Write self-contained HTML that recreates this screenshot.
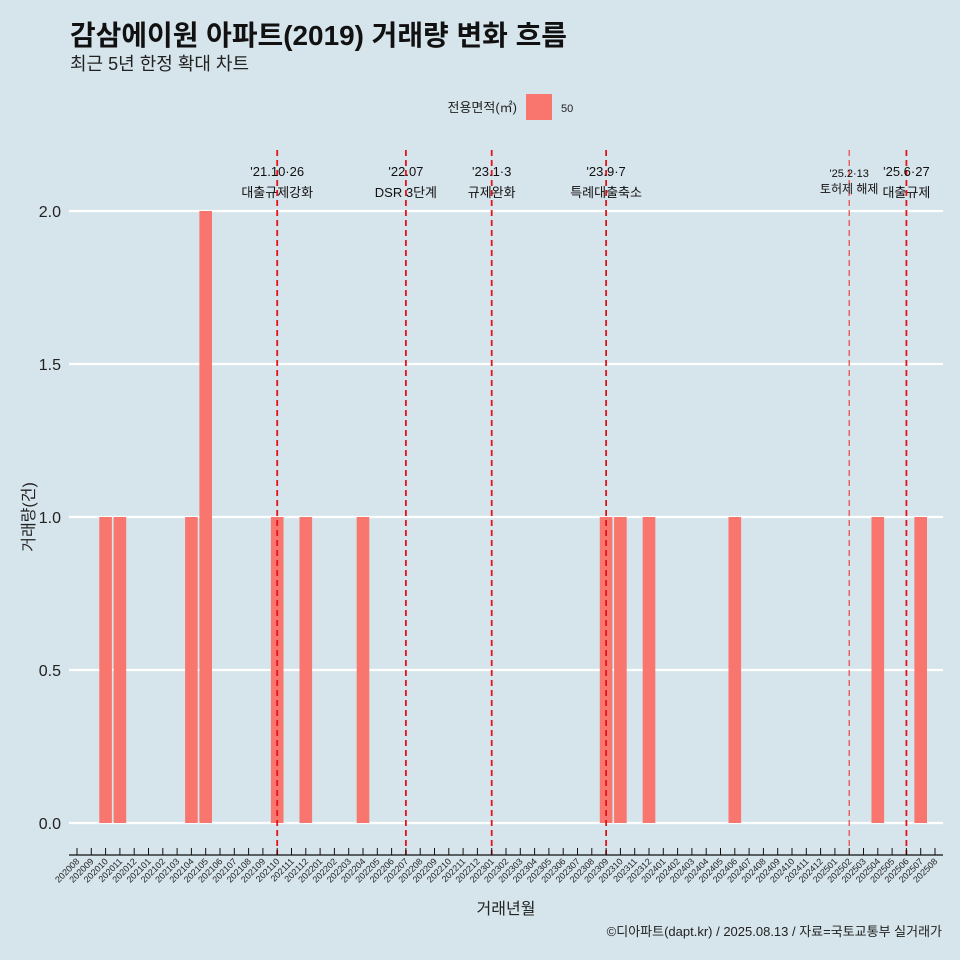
<!DOCTYPE html>
<html><head><meta charset="utf-8">
<style>
body{margin:0;background:#d6e4eb;}
svg{display:block;font-family:"Liberation Sans","Noto Sans CJK KR",sans-serif;}
</style></head>
<body>
<svg id="chart" width="960" height="960" viewBox="0 0 960 960">
<rect width="960" height="960" fill="#d6e4eb"/>
<text x="70" y="45" font-size="28" font-weight="bold" fill="#111" textLength="497" lengthAdjust="spacingAndGlyphs">감삼에이원 아파트(2019) 거래량 변화 흐름</text>
<text x="70" y="70" font-size="18" fill="#222">최근 5년 한정 확대 차트</text>
<g>
<text x="517" y="112" font-size="13" text-anchor="end" fill="#222">전용면적(㎡)</text>
<rect x="526" y="94" width="26" height="26" fill="#f8766d"/>
<text x="561" y="112" font-size="11" fill="#222">50</text>
</g>
<g id="grid"></g><g id="bars"></g><g id="vlines"></g><g id="axes"></g>
<text transform="translate(34,517) rotate(-90)" font-size="16" text-anchor="middle" fill="#222">거래량(건)</text>
<text x="506" y="914" font-size="16" text-anchor="middle" fill="#222">거래년월</text>
<text x="942" y="936" font-size="13" text-anchor="end" fill="#222">©디아파트(dapt.kr) / 2025.08.13 / 자료=국토교통부 실거래가</text>
</svg>
<script>
const categories=[];
for(let y=2020,m=8;!(y===2025&&m===9);){categories.push(y+String(m).padStart(2,'0'));m++;if(m>12){m=1;y++;}}
const barMonths=["202010","202011","202104","202105","202110","202112","202204","202309","202310","202312","202406","202504","202507"];
const barValues=[1,1,1,2,1,1,1,1,1,1,1,1,1];
const yTicks=[0,0.5,1,1.5,2];
const yTickLabels=["0.0","0.5","1.0","1.5","2.0"];
const eventMonths=["202110","202207","202301","202309","202502","202506"];
const eventDates=["'21.10·26","'22.07","'23.1·3","'23.9·7","'25.2·13","'25.6·27"];
const eventLabels=["대출규제강화","DSR 3단계","규제완화","특례대출축소","토허제 해제","대출규제"];
const NS="http://www.w3.org/2000/svg";
const x0=77,step=(935-77)/60,yZero=823,yPer=306;
const xs=c=>x0+categories.indexOf(c)*step;
const ys=v=>yZero-v*yPer;
function mk(tag,attrs,parent,text){const e=document.createElementNS(NS,tag);for(const k in attrs)e.setAttribute(k,attrs[k]);if(text!=null)e.textContent=text;document.getElementById(parent).appendChild(e);return e;}
yTicks.forEach((t,i)=>{
 const l=mk('line',{x1:69,x2:943,y1:ys(t),y2:ys(t),stroke:'#fff','stroke-width':2.2},'grid');
 
 
 const tx=mk('text',{x:61,y:ys(t)+6,'font-size':16,'text-anchor':'end',fill:'#222'},'axes',yTickLabels[i]);
 
 
});
barMonths.forEach((c,i)=>{
 const r=mk('rect',{x:xs(c)-6.3,y:ys(barValues[i]),width:12.6,height:barValues[i]*yPer,fill:'#f8766d'},'bars');
 
 
});
eventMonths.forEach((c,i)=>{
 const x=xs(c);const small=c==="202502";
 const l=mk('line',{x1:x,x2:x,y1:150,y2:855,stroke:small?'#f04040':'#e8131a','stroke-width':small?1.2:1.8,'stroke-dasharray':'6,4'},'vlines');
 
 
 const fs=small?11:13;
 const t1=mk('text',{x:x,y:small?177:176,'font-size':fs,'text-anchor':'middle',fill:'#111'},'vlines',eventDates[i]);
 
 
 const t2=mk('text',{x:x,y:small?193:197,'font-size':small?12:13,'text-anchor':'middle',fill:'#111'},'vlines',eventLabels[i]);
 
 
});
const ax=mk('line',{x1:69,x2:943,y1:855,y2:855,stroke:'#111','stroke-width':1.2},'axes');


categories.forEach(c=>{
 const x=xs(c);
 const t=mk('line',{x1:x,x2:x,y1:848,y2:855,stroke:'#111','stroke-width':1},'axes');
 
 
 const l=mk('text',{transform:`translate(${x+3},${862}) rotate(-45)`,'font-size':9,'text-anchor':'end',fill:'#222'},'axes',c);
 
 
});
</script>
</body></html>
